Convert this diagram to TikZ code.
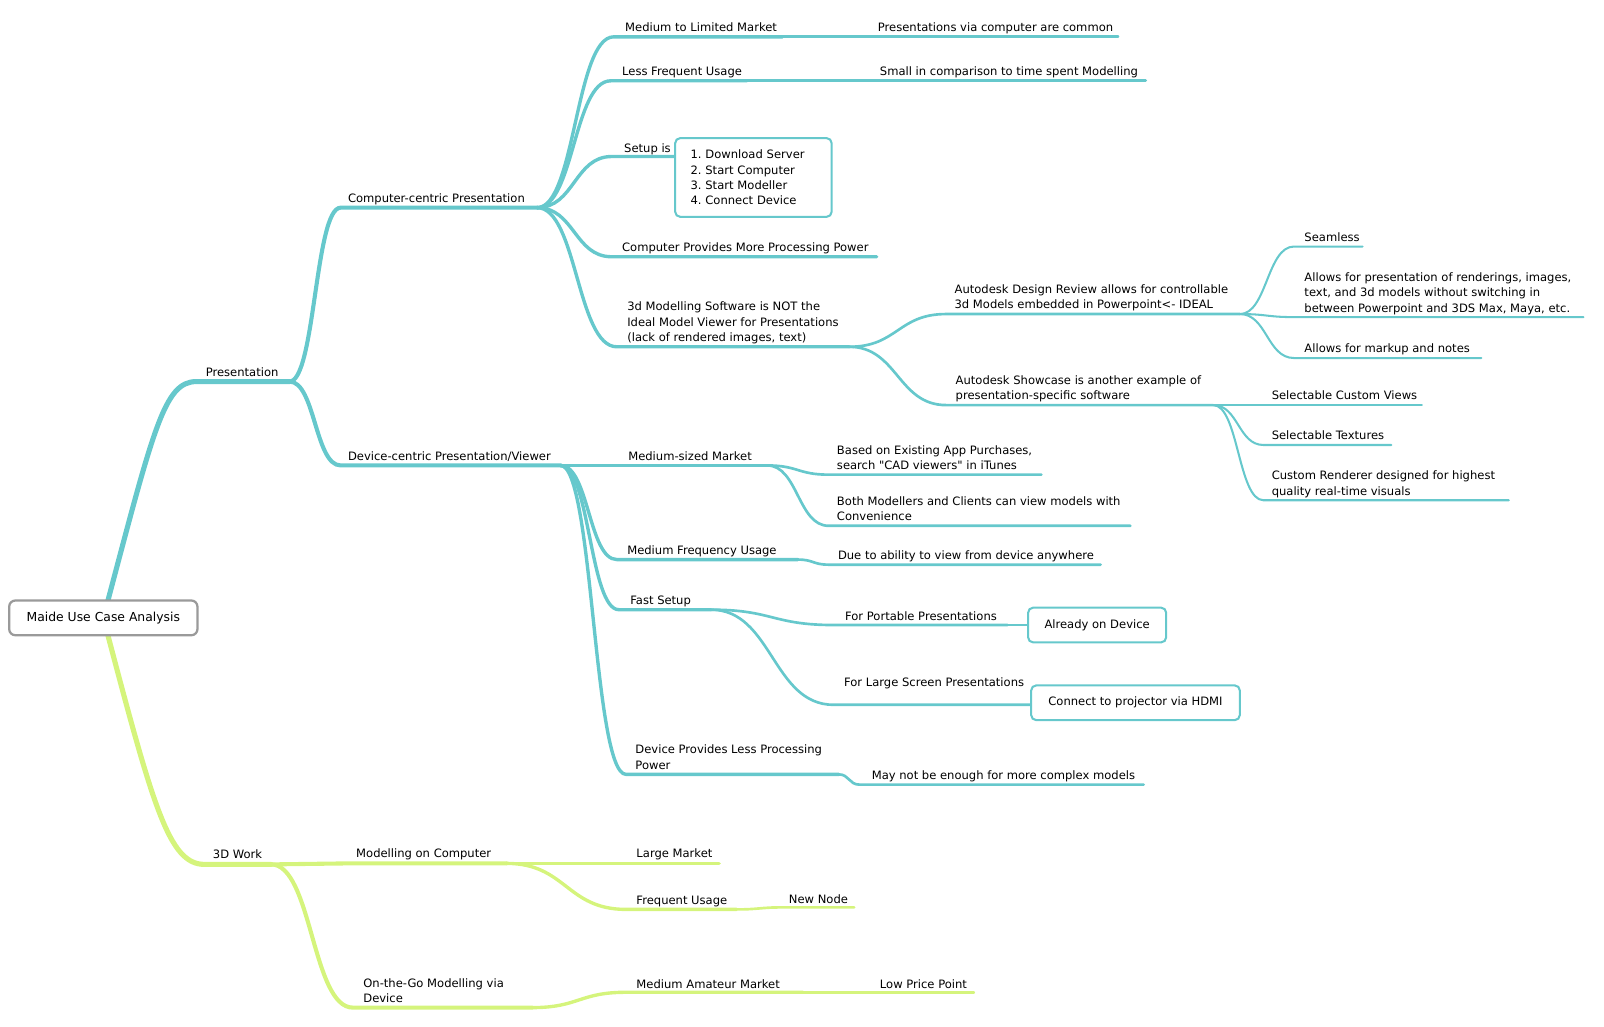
\documentclass[tikz,border=0pt]{standalone}
\usepackage{fontspec}
\setmainfont{DejaVu Sans}
\newfontfamily\qf{DejaVu Sans}
\usetikzlibrary{calc}
\definecolor{bl}{HTML}{66C8CC}
\definecolor{gr}{HTML}{D5F47C}
\definecolor{rootgray}{HTML}{9A9A9A}
\newcommand{\tf}{\fontsize{11.3}{15}\selectfont\frenchspacing}
\newcommand{\sq}{{\qf"}}
\pgfdeclarelayer{bg}
\pgfsetlayers{bg,main}
\begin{document}
\begin{tikzpicture}[x=1pt,y=-1pt,
  sc/.style={to path={let \p1=(\tikztostart), \p2=(\tikztotarget) in .. controls ({0.5*\x1+0.5*\x2},\y1) and ({0.5*\x1+0.5*\x2},\y2) .. (\tikztotarget)}},
  lone/.style={line width=5pt, line cap=round},
  ltwo/.style={line width=4pt, line cap=round},
  lthree/.style={line width=3.3pt, line cap=round},
  lfour/.style={line width=2.6pt, line cap=round},
  lfive/.style={line width=2pt, line cap=round},
  txt/.style={anchor=base west, inner sep=0pt, font=\tf, align=left, text=black},
  rootbox/.style={draw=rootgray, line width=2.2pt, rounded corners=6pt, fill=white, inner sep=0pt, minimum width=184pt, minimum height=34pt, font=\fontsize{12.1}{15}\selectfont},
  bbox/.style={draw=bl, line width=2pt, rounded corners=5pt, fill=white, inner sep=0pt, font=\tf}
]
\useasboundingbox (0,0) rectangle (1568,1003);

% root
\node[rootbox] (root) at (101,604) {Maide Use Case Analysis};

% level 1
\node[txt] (P) at (201,368) {Presentation};
\coordinate (P-s) at (192,373); \coordinate (P-e) at (283,373);
\node[txt] (W) at (208,839) {3D Work};
\coordinate (W-s) at (200,845); \coordinate (W-e) at (265,845);

% level 2
\node[txt] (CC) at (340,198) {Computer-centric Presentation};
\coordinate (CC-s) at (333,203); \coordinate (CC-e) at (525,203);
\node[txt] (DC) at (340,450) {Device-centric Presentation/Viewer};
\coordinate (DC-s) at (333,455); \coordinate (DC-e) at (548,455);
\node[txt] (MC) at (348,838) {Modelling on Computer};
\coordinate (MC-s) at (340,844); \coordinate (MC-e) at (495,844);
\node[txt] (OG) at (355,980) {On-the-Go Modelling via\\Device};
\coordinate (OG-s) at (345,985); \coordinate (OG-e) at (520,985);

% level 3 (computer-centric)
\node[txt] (A1) at (611,31) {Medium to Limited Market};
\coordinate (A1-s) at (600,36); \coordinate (A1-e) at (765,36);
\node[txt] (A2) at (608,74) {Less Frequent Usage};
\coordinate (A2-s) at (597,79); \coordinate (A2-e) at (730,79);
\node[txt] (A3) at (610,149) {Setup is};
\coordinate (A3-s) at (598,153); \coordinate (A3-e) at (662,153);
\node[txt] (A4) at (608,246) {Computer Provides More Processing Power};
\coordinate (A4-s) at (598,251); \coordinate (A4-e) at (857,251);
\node[txt] (A5) at (613,334) {3d Modelling Software is NOT the\\Ideal Model Viewer for Presentations\\(lack of rendered images, text)};
\coordinate (A5-s) at (603,339); \coordinate (A5-e) at (830,339);

\node[bbox, minimum width=153pt, minimum height=77pt, text width=123pt, inner xsep=15pt, align=left] (B3) at (736.5,173.5) {1. Download Server\\2. Start Computer\\3. Start Modeller\\4. Connect Device};

% level 4
\node[txt] (A1c) at (858,31) {Presentations via computer are common};
\coordinate (A1c-s) at (850,36); \coordinate (A1c-e) at (1093,36);
\node[txt] (A2c) at (860,74) {Small in comparison to time spent Modelling};
\coordinate (A2c-s) at (852,79); \coordinate (A2c-e) at (1120,79);
\node[txt] (D1) at (933,302) {Autodesk Design Review allows for controllable\\3d Models embedded in Powerpoint<- IDEAL};
\coordinate (D1-s) at (925,307); \coordinate (D1-e) at (1212,307);
\node[txt] (D2) at (934,391) {Autodesk Showcase is another example of\\presentation-specific software};
\coordinate (D2-s) at (925,396); \coordinate (D2-e) at (1186,396);

% level 5
\node[txt] (E1) at (1275,236) {Seamless};
\coordinate (E1-s) at (1265,241); \coordinate (E1-e) at (1332,241);
\node[txt] (E2) at (1275,305) {Allows for presentation of renderings, images,\\text, and 3d models without switching in\\between Powerpoint and 3DS Max, Maya, etc.};
\coordinate (E2-s) at (1265,310); \coordinate (E2-e) at (1548,310);
\node[txt] (E3) at (1275,345) {Allows for markup and notes};
\coordinate (E3-s) at (1265,350); \coordinate (E3-e) at (1448,350);
\node[txt] (F1) at (1243,391) {Selectable Custom Views};
\coordinate (F1-s) at (1235,396); \coordinate (F1-e) at (1390,396);
\node[txt] (F2) at (1243,430) {Selectable Textures};
\coordinate (F2-s) at (1235,435); \coordinate (F2-e) at (1360,435);
\node[txt] (F3) at (1243,484) {Custom Renderer designed for highest\\quality real-time visuals};
\coordinate (F3-s) at (1235,489); \coordinate (F3-e) at (1475,489);

% level 3 (device-centric)
\node[txt] (G1) at (614,450) {Medium-sized Market};
\coordinate (G1-s) at (600,455); \coordinate (G1-e) at (750,455);
\node[txt] (G2) at (613,542) {Medium Frequency Usage};
\coordinate (G2-s) at (603,547); \coordinate (G2-e) at (780,547);
\node[txt] (G3) at (616,591) {Fast Setup};
\coordinate (G3-s) at (605,596); \coordinate (G3-e) at (695,596);
\node[txt] (G4) at (621,752) {Device Provides Less Processing\\Power};
\coordinate (G4-s) at (612,757); \coordinate (G4-e) at (820,757);

% level 4 (device-centric)
\node[txt] (H1) at (818,459) {Based on Existing App Purchases,\\search \sq CAD viewers\sq{} in iTunes};
\coordinate (H1-s) at (810,464); \coordinate (H1-e) at (1018,464);
\node[txt] (H2) at (818,509) {Both Modellers and Clients can view models with\\Convenience};
\coordinate (H2-s) at (810,514); \coordinate (H2-e) at (1105,514);
\node[txt] (H3) at (819,547) {Due to ability to view from device anywhere};
\coordinate (H3-s) at (810,552); \coordinate (H3-e) at (1076,552);
\node[txt] (H4) at (826,607) {For Portable Presentations};
\coordinate (H4-s) at (815,611); \coordinate (H4-e) at (985,611);
\node[txt] (H5) at (825,671) {For Large Screen Presentations};
\coordinate (H5-s) at (815,689); \coordinate (H5-e) at (1008,689);
\node[txt] (H6) at (852,762) {May not be enough for more complex models};
\coordinate (H6-s) at (840,767); \coordinate (H6-e) at (1118,767);

\node[bbox, minimum width=135pt, minimum height=34pt] (J1) at (1072.5,611) {Already on Device};
\node[bbox, minimum width=204pt, minimum height=34pt] (J2) at (1110,687) {Connect to projector via HDMI};

% green subtree
\node[txt] (K1) at (622,838) {Large Market};
\coordinate (K1-s) at (612,844); \coordinate (K1-e) at (703,844);
\node[txt] (K2) at (622,884) {Frequent Usage};
\coordinate (K2-s) at (612,889); \coordinate (K2-e) at (720,889);
\node[txt] (K2c) at (771,883) {New Node};
\coordinate (K2c-s) at (765,887); \coordinate (K2c-e) at (835,887);
\node[txt] (K3) at (622,966) {Medium Amateur Market};
\coordinate (K3-s) at (612,970); \coordinate (K3-e) at (785,970);
\node[txt] (K3c) at (860,966) {Low Price Point};
\coordinate (K3c-s) at (852,970); \coordinate (K3c-e) at (952,970);

\begin{pgfonlayer}{bg}
% blue tree
\draw[bl,lone] (root.center) .. controls (150,420) and (160,373) .. (P-s) -- (P-e);
\draw[bl,ltwo] (P-e) to[sc] (CC-s) -- (CC-e);
\draw[bl,ltwo] (P-e) to[sc] (DC-s) -- (DC-e);
\foreach \c in {A1,A2,A3,A4,A5}{\draw[bl,lthree] (CC-e) to[sc] (\c-s) -- (\c-e);}
\draw[bl,lfour] (A1-e) to[sc] (A1c-s) -- (A1c-e);
\draw[bl,lfour] (A2-e) to[sc] (A2c-s) -- (A2c-e);
\draw[bl,lfour] (A5-e) to[sc] (D1-s) -- (D1-e);
\draw[bl,lfour] (A5-e) to[sc] (D2-s) -- (D2-e);
\foreach \c in {E1,E2,E3}{\draw[bl,lfive] (D1-e) to[sc] (\c-s) -- (\c-e);}
\foreach \c in {F1,F2,F3}{\draw[bl,lfive] (D2-e) to[sc] (\c-s) -- (\c-e);}
\foreach \c in {G1,G2,G3,G4}{\draw[bl,lthree] (DC-e) to[sc] (\c-s) -- (\c-e);}
\draw[bl,lfour] (G1-e) to[sc] (H1-s) -- (H1-e);
\draw[bl,lfour] (G1-e) to[sc] (H2-s) -- (H2-e);
\draw[bl,lfour] (G2-e) to[sc] (H3-s) -- (H3-e);
\draw[bl,lfour] (G3-e) to[sc] (H4-s) -- (H4-e);
\draw[bl,lfour] (G3-e) to[sc] (H5-s) -- (H5-e);
\draw[bl,lfour] (G4-e) to[sc] (H6-s) -- (H6-e);
\draw[bl,lfive] (H4-e) -- (J1.west);
\draw[bl,lfive] (H5-e) -- (H5-e -| J2.west);
% green tree
\draw[gr,lone] (root.center) .. controls (150,790) and (165,845) .. (W-s) -- (W-e);
\draw[gr,ltwo] (W-e) to[sc] (MC-s) -- (MC-e);
\draw[gr,ltwo] (W-e) to[sc] (OG-s) -- (OG-e);
\draw[gr,lthree] (MC-e) to[sc] (K1-s) -- (K1-e);
\draw[gr,lthree] (MC-e) to[sc] (K2-s) -- (K2-e);
\draw[gr,lfour] (K2-e) to[sc] (K2c-s) -- (K2c-e);
\draw[gr,lthree] (OG-e) to[sc] (K3-s) -- (K3-e);
\draw[gr,lfour] (K3-e) to[sc] (K3c-s) -- (K3c-e);
\end{pgfonlayer}
\end{tikzpicture}
\end{document}
